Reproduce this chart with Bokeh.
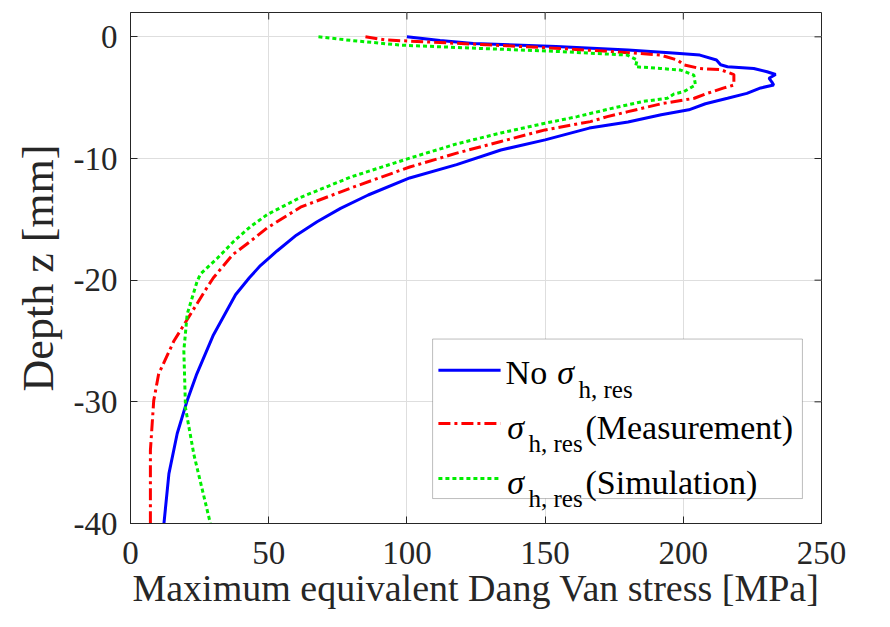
from bokeh.plotting import figure
from bokeh.models import Range1d, BoxAnnotation, Label, Arrow, FixedTicker
from bokeh.embed import file_html
from bokeh.resources import INLINE

# ---- data ----
blue_x = [100, 112, 124, 154, 180, 195, 206, 212, 213.5, 216, 225.5, 230.3, 233.4, 231, 232, 232.7,
          228, 223, 216, 208, 202, 192, 180, 166, 150, 134, 118, 101, 86, 76, 67.5, 60, 53, 47, 43,
          38, 30, 24, 20.5, 16.9, 13.9, 12.1]
blue_z = [0, -0.3, -0.55, -0.8, -1.09, -1.3, -1.5, -1.9, -2.3, -2.46, -2.6, -2.87, -3.1, -3.4, -3.7, -3.96,
          -4.2, -4.65, -5.05, -5.5, -6.0, -6.4, -7.0, -7.5, -8.47, -9.3, -10.5, -11.6, -13.0, -14.1, -15.2,
          -16.3, -17.6, -18.8, -19.8, -21.2, -24.5, -27.7, -29.9, -32.6, -35.9, -40]

red_x = [85, 92, 110, 127, 155.6, 180, 191.7, 197.8, 200.2, 206, 213.5, 218.3, 218.3, 214.7, 208.6,
         204, 192, 180, 172.5, 166.4, 150, 134, 118, 101, 80, 61.5, 49.5, 43.4, 37, 30, 27.7, 21.7,
         15.7, 10.2, 8.4, 7.2, 7.2]
red_z = [0, -0.25, -0.45, -0.63, -0.96, -1.3, -1.5, -1.9, -2.3, -2.6, -2.7, -3.1, -3.96, -4.2, -4.65,
         -5.05, -5.5, -6.15, -6.56, -6.97, -7.65, -8.6, -9.56, -10.7, -12.4, -14.0, -15.7, -16.8, -17.9,
         -19.8, -20.6, -22.8, -25, -27.7, -29.9, -34, -40]

green_x = [68, 80, 97.7, 126, 154.4, 179.7, 183.3, 182.7, 191.7, 199, 203.8, 204.4, 200.2, 196.6,
           194.2, 185.7, 173.7, 161.6, 150, 134, 118, 101, 80, 61.5, 49.5, 43.4, 37.4, 31.4, 25.3,
           24.1, 20.5, 19.3, 19.9, 22.9, 28.9]
green_z = [0, -0.3, -0.68, -0.95, -1.2, -1.5, -1.9, -2.46, -2.6, -2.73, -3.14, -3.96, -4.5, -4.7,
           -5.05, -5.3, -5.9, -6.56, -7.1, -7.9, -8.8, -9.97, -11.5, -13.2, -14.6, -15.6, -16.8, -18.2,
           -19.5, -20.1, -22.8, -25.8, -30.5, -34.3, -40]

x_ticks = [0, 50, 100, 150, 200, 250]
y_ticks = [0, -10, -20, -30, -40]
y_tick_labels = ["0", "-10", "-20", "-30", "-40"]

x_label = "Maximum equivalent Dang Van stress [MPa]"
y_label = "Depth z [mm]"
legend_main = ["No ", "", ""]
legend_tail = ["", "(Measurement)", "(Simulation)"]

FONT = "Liberation Serif"
AX = "#262626"
BLUE, RED, GREEN = "#0000ff", "#ff0000", "#00ee00"
X0, X1, Y0, Y1 = 0, 250, -40, 2

p = figure(width=874, height=611, output_backend="svg", toolbar_location=None,
           x_range=Range1d(X0, X1), y_range=Range1d(Y0, Y1),
           min_border_left=130, min_border_right=53, min_border_top=12, min_border_bottom=88,
           background_fill_color="white", border_fill_color="white")

p.outline_line_color = AX
p.outline_line_width = 1
p.grid.grid_line_color = "#dedede"
p.grid.grid_line_width = 1

p.xaxis.ticker = FixedTicker(ticks=x_ticks)
p.yaxis.ticker = FixedTicker(ticks=y_ticks)
p.yaxis.major_label_overrides = {t: s for t, s in zip(y_ticks, y_tick_labels)}
for ax in (p.xaxis[0], p.yaxis[0]):
    ax.major_tick_in = 7
    ax.major_tick_out = 0
    ax.minor_tick_line_color = None
    ax.axis_line_color = AX
    ax.major_tick_line_color = AX
    ax.major_label_text_font = FONT
    ax.major_label_text_font_size = "33px"
    ax.major_label_text_color = AX
    ax.axis_label_text_font = FONT
    ax.axis_label_text_font_style = "normal"
    ax.axis_label_text_color = AX

p.xaxis.axis_label = x_label
p.xaxis.axis_label_text_font_size = "38px"
p.xaxis.major_label_standoff = 18
p.xaxis.axis_label_standoff = 0
p.yaxis.axis_label = y_label
p.yaxis.axis_label_text_font_size = "44px"
p.yaxis.major_label_standoff = 13
p.yaxis.axis_label_standoff = 8

# inward tick marks on the top and right edges of the box (7 px long)
tick_dy = 7 / 511 * (Y1 - Y0)
tick_dx = 7 / 691 * (X1 - X0)
p.segment(x0=x_ticks, y0=[Y1] * len(x_ticks), x1=x_ticks, y1=[Y1 - tick_dy] * len(x_ticks),
          line_color=AX, line_width=1)
p.segment(x0=[X1] * len(y_ticks), y0=y_ticks, x1=[X1 - tick_dx] * len(y_ticks), y1=y_ticks,
          line_color=AX, line_width=1)

p.line(blue_x, blue_z, line_color=BLUE, line_width=3)
p.line(red_x, red_z, line_color=RED, line_width=3, line_dash="12 4 3 4")
p.line(green_x, green_z, line_color=GREEN, line_width=3, line_dash="4 3")

# legend (drawn by hand, positions in data units of the fixed ranges)
box = BoxAnnotation(left=109.3, right=243.1, top=-24.84, bottom=-37.95,
                    fill_color="white", fill_alpha=1.0, line_color=AX, line_width=1,
                    level="annotation")
p.add_layout(box)

rows_line_y = [-27.4, -31.78, -36.3]
rows_base_y = [-27.6, -32.1, -36.6]
sub_dy = -1.35
colors = [BLUE, RED, GREEN]
dashes = ["solid", "12 4 3 4", "4 3"]
sigma_x = [154.4, 136.3, 136.3]
for i in range(3):
    p.add_layout(Arrow(end=None, x_start=111.4, x_end=133.9, y_start=rows_line_y[i], y_end=rows_line_y[i],
                       line_color=colors[i], line_width=3, line_dash=dashes[i]))
    if legend_main[i]:
        p.add_layout(Label(x=135.7, y=rows_base_y[i], text=legend_main[i], text_font=FONT,
                           text_font_size="34px", text_color="black", text_baseline="alphabetic"))
    p.add_layout(Label(x=sigma_x[i], y=rows_base_y[i], text="σ", text_font=FONT, text_font_style="italic",
                       text_font_size="34px", text_color="black", text_baseline="alphabetic"))
    p.add_layout(Label(x=sigma_x[i] + 7.7, y=rows_base_y[i] + sub_dy, text="h, res", text_font=FONT,
                       text_font_size="25px", text_color="black", text_baseline="alphabetic"))
    if legend_tail[i]:
        p.add_layout(Label(x=164.6, y=rows_base_y[i], text=legend_tail[i], text_font=FONT,
                           text_font_size="34px", text_color="black", text_baseline="alphabetic"))

open("out.html", "w").write(file_html(p, INLINE))
